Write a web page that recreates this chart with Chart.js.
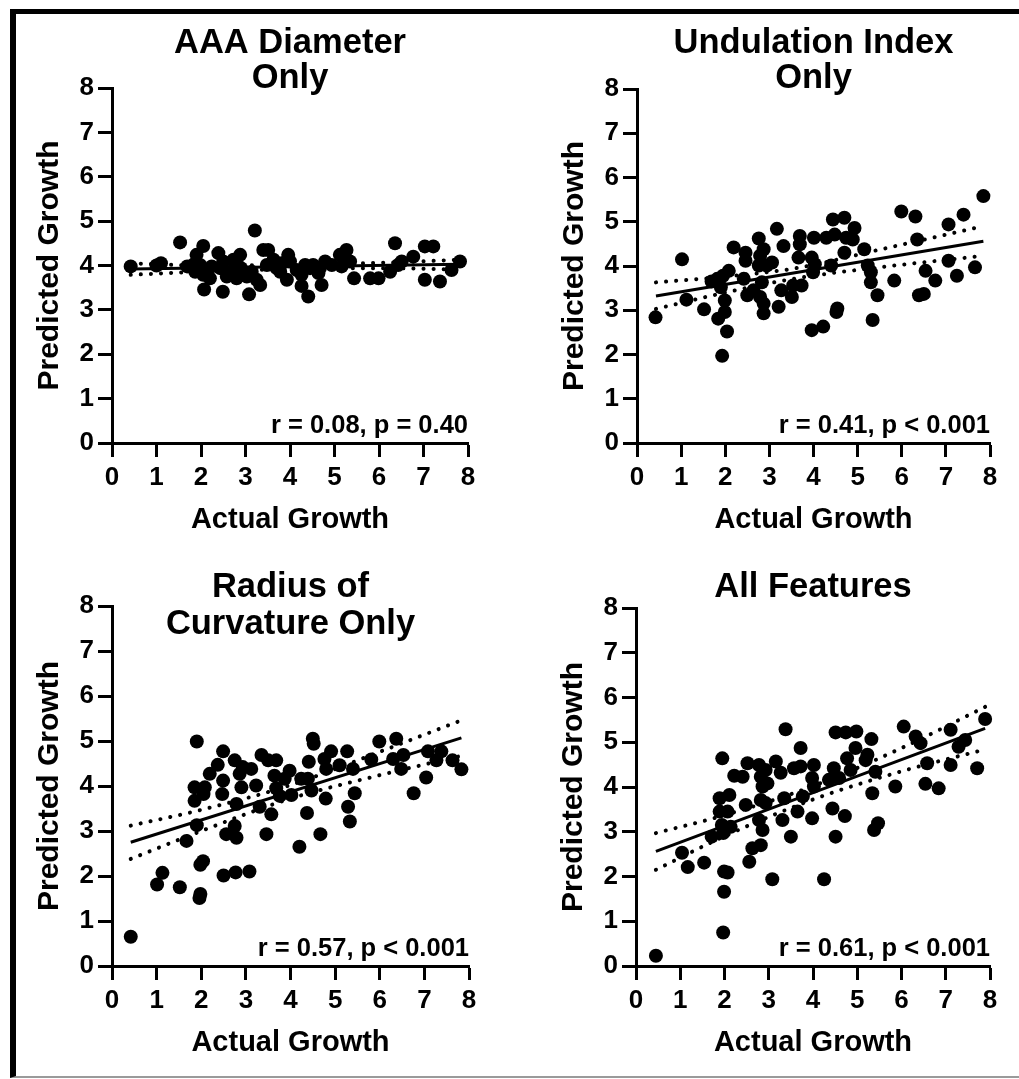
<!DOCTYPE html>
<html>
<head>
<meta charset="utf-8">
<title>Predicted vs actual growth</title>
<script src="https://cdn.jsdelivr.net/npm/chart.js@4.4.1/dist/chart.umd.min.js"></script>
<style>
  html, body { margin: 0; padding: 0; background: #fff; }
  body { width: 1019px; height: 1079px; position: relative; overflow: hidden; }
  .frame { position: absolute; left: 10px; top: 9px; width: 1100px; height: 1062px;
           border-left: 6px solid #000; border-top: 5px solid #000; border-bottom: 2px solid #9a9a9a; }
  canvas { position: absolute; }
</style>
</head>
<body>
<div class="frame"></div>
<canvas id="c0"></canvas>
<canvas id="c1"></canvas>
<canvas id="c2"></canvas>
<canvas id="c3"></canvas>
<script>
/* ---------- data ---------- */
var axisTicks = [0, 1, 2, 3, 4, 5, 6, 7, 8];
var titles = [['AAA Diameter', 'Only'], ['Undulation Index', 'Only'], ['Radius of', 'Curvature Only'], ['All Features']];
var stats = ['r = 0.08, p = 0.40', 'r = 0.41, p < 0.001', 'r = 0.57, p < 0.001', 'r = 0.61, p < 0.001'];

// AAA diameter only
var aaaX = [0.42, 1.0, 1.1, 1.53, 1.69, 1.83, 1.87, 1.9, 1.98, 2.05,
            2.05, 2.07, 2.2, 2.24, 2.39, 2.43, 2.49, 2.5, 2.58, 2.65,
            2.73, 2.8, 2.84, 2.88, 2.9, 3.03, 3.08, 3.14, 3.21, 3.25,
            3.33, 3.4, 3.48, 3.51, 3.63, 3.7, 3.78, 3.81, 3.93, 3.96,
            4.0, 4.15, 4.26, 4.26, 4.34, 4.41, 4.45, 4.52, 4.64, 4.67,
            4.71, 4.79, 4.94, 5.12, 5.16, 5.27, 5.35, 5.44, 5.8, 5.99,
            6.25, 6.36, 6.43, 6.51, 6.77, 7.03, 7.03, 7.22, 7.37, 7.63, 7.82];
var aaaY = [3.98, 4.0, 4.05, 4.52, 3.98, 4.02, 3.86, 4.24, 4.01, 4.44,
            3.79, 3.46, 3.71, 3.98, 4.28, 3.94, 3.41, 4.09, 3.75, 3.86,
            4.13, 3.71, 3.98, 4.24, 3.94, 3.75, 3.35, 3.86, 4.79, 3.68,
            3.56, 4.35, 4.01, 4.35, 4.13, 3.94, 3.86, 4.05, 3.68, 4.24,
            4.09, 3.9, 3.79, 3.54, 4.01, 3.3, 3.94, 4.01, 3.83, 3.94,
            3.56, 4.09, 4.01, 4.24, 3.98, 4.35, 4.09, 3.71, 3.71, 3.71,
            3.86, 4.5, 4.01, 4.09, 4.2, 4.43, 3.68, 4.43, 3.64, 3.9, 4.09];
var aaaFitX = [0.42, 7.82], aaaFitY = [3.92, 4.03];
var aaaBandX = [0.42, 2, 4, 6, 7.82];
var aaaUpper = [4.05, 4.0, 4.02, 4.06, 4.13];
var aaaLower = [3.79, 3.86, 3.92, 3.94, 3.91];

// undulation index only
var undX = [0.42, 1.02, 1.12, 1.52, 1.69, 1.82, 1.84, 1.9, 1.93, 1.95,
            1.99, 1.99, 2.04, 2.08, 2.19, 2.42, 2.46, 2.46, 2.5, 2.64,
            2.76, 2.76, 2.79, 2.79, 2.83, 2.87, 2.87, 2.87, 2.94, 3.06,
            3.17, 3.21, 3.27, 3.32, 3.51, 3.54, 3.66, 3.69, 3.69, 3.73,
            3.96, 3.96, 3.99, 4.01, 4.03, 4.22, 4.29, 4.4, 4.44, 4.48,
            4.52, 4.54, 4.7, 4.7, 4.74, 4.89, 4.93, 5.15, 5.23, 5.3,
            5.3, 5.34, 5.45, 5.83, 5.99, 6.31, 6.35, 6.39, 6.5, 6.54,
            6.76, 7.06, 7.06, 7.25, 7.4, 7.66, 7.85];
var undY = [2.84, 4.15, 3.24, 3.02, 3.65, 3.71, 2.81, 3.52, 1.97, 3.78,
            2.96, 3.22, 2.52, 3.89, 4.42, 3.71, 4.3, 4.12, 3.34, 3.45,
            4.62, 4.01, 4.23, 3.3, 3.63, 4.38, 3.15, 2.93, 4.01, 4.08,
            4.84, 3.08, 3.45, 4.45, 3.3, 3.56, 4.19, 4.68, 4.49, 3.56,
            4.19, 2.55, 3.86, 4.64, 4.04, 2.63, 4.64, 4.01, 5.05, 4.71,
            2.96, 3.04, 5.09, 4.3, 4.64, 4.6, 4.86, 4.38, 4.01, 3.86,
            3.63, 2.78, 3.34, 3.67, 5.23, 5.12, 4.6, 3.34, 3.37, 3.89,
            3.67, 4.94, 4.12, 3.78, 5.16, 3.97, 5.58];
var undFitX = [0.43, 7.85], undFitY = [3.32, 4.56];
var undBandX = [0.43, 2, 3.6, 5.5, 7.85];
var undUpper = [3.63, 3.76, 3.95, 4.37, 4.9];
var undLower = [3.03, 3.4, 3.72, 3.97, 4.23];

// radius of curvature only
var rocX = [0.42, 1.01, 1.13, 1.52, 1.67, 1.85, 1.85, 1.9, 1.9, 1.96,
            1.98, 1.98, 2.04, 2.05, 2.08, 2.19, 2.37, 2.47, 2.49, 2.49,
            2.5, 2.56, 2.75, 2.75, 2.77, 2.79, 2.79, 2.86, 2.9, 2.93,
            3.08, 3.12, 3.23, 3.31, 3.35, 3.46, 3.5, 3.57, 3.64, 3.68,
            3.68, 3.76, 3.87, 3.98, 4.02, 4.2, 4.24, 4.37, 4.39, 4.41,
            4.47, 4.5, 4.52, 4.67, 4.76, 4.79, 4.8, 4.91, 5.1, 5.27,
            5.29, 5.33, 5.4, 5.44, 5.81, 5.99, 6.3, 6.37, 6.48, 6.53,
            6.76, 7.04, 7.08, 7.27, 7.38, 7.63, 7.83];
var rocY = [0.65, 1.81, 2.07, 1.75, 2.78, 3.97, 3.67, 4.99, 3.13, 1.51,
            1.6, 2.25, 2.33, 3.82, 3.97, 4.27, 4.47, 3.82, 4.77, 4.12,
            2.01, 2.93, 3.11, 4.57, 2.08, 3.6, 2.85, 4.27, 3.97, 4.42,
            2.1, 4.38, 4.01, 3.54, 4.69, 2.93, 4.57, 3.37, 4.23, 4.57,
            3.95, 3.78, 4.16, 4.34, 3.8, 2.65, 4.16, 3.4, 4.16, 4.54,
            3.9, 5.05, 4.94, 2.93, 4.6, 3.72, 4.38, 4.77, 4.46, 4.77,
            3.54, 3.21, 4.38, 3.84, 4.59, 4.99, 4.6, 5.05, 4.38, 4.69,
            3.84, 4.19, 4.77, 4.57, 4.77, 4.57, 4.37];
var rocFitX = [0.42, 7.83], rocFitY = [2.75, 5.07];
var rocBandX = [0.42, 2, 4, 6, 7.83];
var rocUpper = [3.12, 3.47, 4.02, 4.76, 5.46];
var rocLower = [2.38, 3.0, 3.72, 4.24, 4.67];

// all features
var allX = [0.45, 1.04, 1.17, 1.54, 1.71, 1.89, 1.89, 1.94, 1.95, 1.97,
            1.97, 1.99, 1.99, 2.07, 2.07, 2.11, 2.14, 2.22, 2.41, 2.48,
            2.52, 2.56, 2.63, 2.78, 2.78, 2.82, 2.82, 2.82, 2.86, 2.86,
            2.93, 2.93, 2.97, 3.08, 3.16, 3.27, 3.31, 3.35, 3.38, 3.5,
            3.57, 3.65, 3.72, 3.72, 3.77, 3.98, 3.98, 4.02, 4.02, 4.25,
            4.36, 4.44, 4.47, 4.51, 4.51, 4.59, 4.72, 4.74, 4.77, 4.85,
            4.96, 4.98, 5.19, 5.23, 5.32, 5.34, 5.38, 5.41, 5.47, 5.86,
            6.05, 6.32, 6.43, 6.54, 6.58, 6.84, 7.11, 7.11, 7.29, 7.44,
            7.71, 7.89];
var allY = [0.23, 2.53, 2.21, 2.31, 2.89, 3.75, 3.45, 3.15, 4.64, 2.97,
            0.75, 2.11, 1.66, 2.09, 3.45, 3.82, 3.11, 4.25, 4.23, 3.6,
            4.53, 2.33, 2.63, 4.49, 3.26, 2.7, 4.23, 3.71, 4.01, 3.04,
            4.38, 3.64, 4.08, 1.94, 4.57, 4.32, 3.26, 3.75, 5.29, 2.89,
            4.42, 3.45, 4.87, 4.46, 3.79, 3.3, 4.2, 4.49, 4.01, 1.94,
            4.16, 3.52, 4.42, 5.22, 2.89, 4.2, 3.35, 5.22, 4.64, 4.38,
            4.87, 5.24, 4.6, 4.72, 5.07, 3.86, 3.04, 4.34, 3.19, 4.01,
            5.35, 5.13, 4.98, 4.07, 4.53, 3.97, 5.28, 4.49, 4.9, 5.05,
            4.42, 5.52];
var allFitX = [0.45, 7.89], allFitY = [2.56, 5.31];
var allBandX = [0.45, 2, 4, 6, 7.89];
var allUpper = [2.97, 3.37, 4.02, 4.87, 5.79];
var allLower = [2.15, 2.9, 3.72, 4.35, 4.84];

/* ---------- layout: plot rectangle in page px [left, top, width, height] ---------- */
var panels = [
  { id: 'c0', plot: [112, 88, 356, 355], titleDy: [-35, 0],
    x: aaaX, y: aaaY, fx: aaaFitX, fy: aaaFitY, bx: aaaBandX, up: aaaUpper, lo: aaaLower },
  { id: 'c1', plot: [637, 89, 353, 354], titleDy: [-36, -1],
    x: undX, y: undY, fx: undFitX, fy: undFitY, bx: undBandX, up: undUpper, lo: undLower },
  { id: 'c2', plot: [112, 606, 357, 360], titleDy: [-9, 28],
    x: rocX, y: rocY, fx: rocFitX, fy: rocFitY, bx: rocBandX, up: rocUpper, lo: rocLower },
  { id: 'c3', plot: [636, 608, 354, 358], titleDy: [-11],
    x: allX, y: allY, fx: allFitX, fy: allFitY, bx: allBandX, up: allUpper, lo: allLower }
];

var FONT = '"Liberation Sans", Arial, Helvetica, sans-serif';
var PAD_L = 100, PAD_T = 75, PAD_R = 24, PAD_B = 100;

Chart.defaults.font.family = FONT;
Chart.defaults.font.weight = 'bold';
Chart.defaults.color = '#000';

function zip(xs, ys) { return xs.map(function (x, i) { return { x: x, y: ys[i] }; }); }

/* titles above the plot, r/p text in the lower right corner */
var panelText = {
  id: 'panelText',
  afterDraw: function (chart, args, o) {
    var a = chart.chartArea, ctx = chart.ctx;
    ctx.save();
    ctx.fillStyle = '#000';
    ctx.textBaseline = 'alphabetic';
    ctx.textAlign = 'center';
    ctx.font = 'bold 34.5px ' + FONT;
    o.title.forEach(function (line, i) { ctx.fillText(line, (a.left + a.right) / 2, a.top + o.titleDy[i]); });
    ctx.textAlign = 'right';
    ctx.font = 'bold 25.5px ' + FONT;
    ctx.fillText(o.stat, a.right, a.bottom - 10);
    ctx.restore();
  }
};

function axis(title, isX) {
  return {
    type: 'linear', min: 0, max: 8,
    afterBuildTicks: function (s) { s.ticks = axisTicks.map(function (v) { return { value: v }; }); },
    afterFit: function (s) { if (isX) s.height = PAD_B; else s.width = PAD_L; },
    ticks: { font: { size: 26, weight: 'bold' }, color: '#000', padding: isX ? 5 : 4, maxRotation: 0 },
    grid: { drawOnChartArea: false, drawTicks: true, tickLength: 14, tickWidth: 3, tickColor: '#000', color: '#000' },
    border: { display: true, color: '#000', width: 3 },
    title: { display: true, text: title, color: '#000',
             font: { size: isX ? 29 : 30, weight: 'bold' },
             padding: isX ? { top: 0, bottom: 6 } : { top: 20, bottom: 0 } }
  };
}

panels.forEach(function (p, i) {
  var el = document.getElementById(p.id);
  var w = PAD_L + p.plot[2] + PAD_R, h = PAD_T + p.plot[3] + PAD_B;
  el.width = w; el.height = h;
  el.style.left = (p.plot[0] - PAD_L) + 'px';
  el.style.top = (p.plot[1] - PAD_T) + 'px';
  el.style.width = w + 'px'; el.style.height = h + 'px';

  var lineStyle = { showLine: true, pointRadius: 0, borderColor: '#000', fill: false, clip: false, order: 0 };
  new Chart(el.getContext('2d'), {
    type: 'scatter',
    data: {
      datasets: [
        { label: 'cases', data: zip(p.x, p.y), pointRadius: 7, pointHoverRadius: 7,
          backgroundColor: '#000', borderWidth: 0, clip: false, order: 1 },
        Object.assign({ label: 'fit', data: zip(p.fx, p.fy), borderWidth: 3 }, lineStyle),
        Object.assign({ label: 'upper 95% CI', data: zip(p.bx, p.up), borderWidth: 4,
          borderDash: [0.1, 10], borderCapStyle: 'round', cubicInterpolationMode: 'monotone' }, lineStyle),
        Object.assign({ label: 'lower 95% CI', data: zip(p.bx, p.lo), borderWidth: 4,
          borderDash: [0.1, 10], borderCapStyle: 'round', cubicInterpolationMode: 'monotone' }, lineStyle)
      ]
    },
    options: {
      responsive: false, animation: false, devicePixelRatio: 1,
      layout: { padding: { left: 0, top: PAD_T, right: PAD_R, bottom: 0 } },
      scales: { x: axis('Actual Growth', true), y: axis('Predicted Growth', false) },
      plugins: {
        legend: { display: false }, tooltip: { enabled: false },
        panelText: { title: titles[i], titleDy: p.titleDy, stat: stats[i] }
      }
    },
    plugins: [panelText]
  });
});
</script>
</body>
</html>
